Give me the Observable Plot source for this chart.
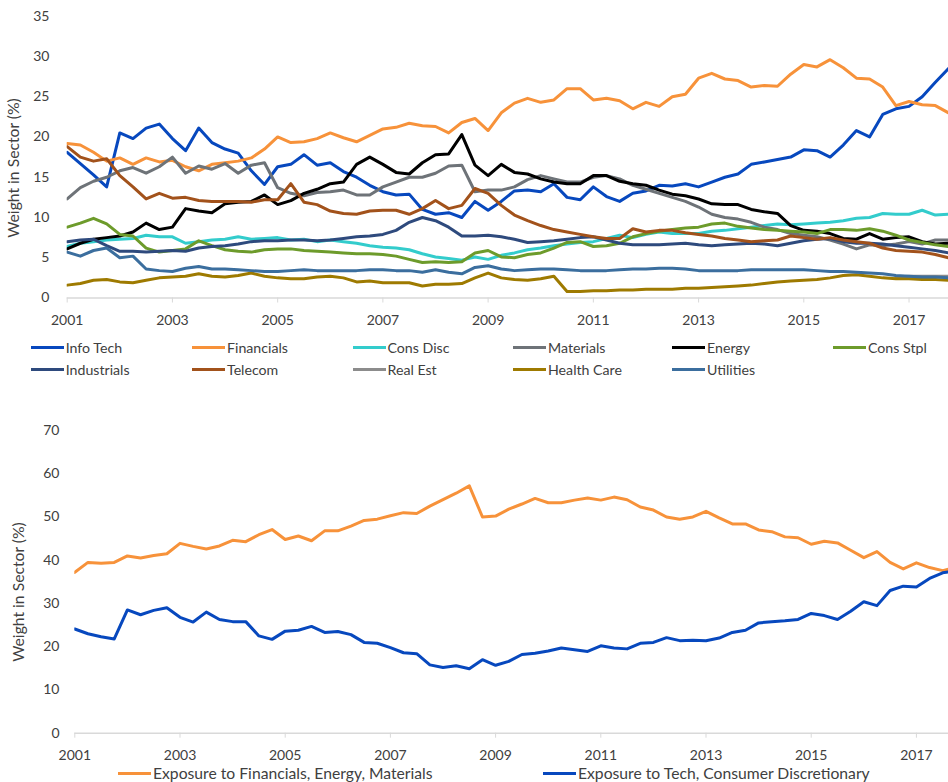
<!DOCTYPE html>
<html><head><meta charset="utf-8">
<script src="https://cdn.jsdelivr.net/npm/d3@7"></script>
<script src="https://cdn.jsdelivr.net/npm/@observablehq/plot@0.6"></script>
<style>
body{margin:0;background:#fff;font-family:Lato,"Liberation Sans",sans-serif;}
#wrap{position:relative;width:948px;height:782px;overflow:hidden;background:#fff;}
#wrap svg{position:absolute;left:0;overflow:visible;}
.leg{position:absolute;display:flex;align-items:center;height:18px;color:#404040;white-space:nowrap;}
.sw{display:inline-block;width:33px;height:3px;margin-right:2px;}
</style></head><body><div id="wrap"></div>
<script>
// quarterly observations, 2001 Q1 .. 2017 Q4 (index i -> 2001 + i/4)
const startYear = 2001;
const tickYears = [2001,2003,2005,2007,2009,2011,2013,2015,2017];
const topTicks = [0,5,10,15,20,25,30,35];
const bottomTicks = [0,10,20,30,40,50,60,70];

const sectorNames = ["Info Tech","Financials","Cons Disc","Materials","Energy","Cons Stpl","Industrials","Telecom","Real Est","Health Care","Utilities"];
const sectorColors = ["#0748BE","#F7923A","#33CCCC","#6E7378","#000000","#6D9B2B","#2E4A7D","#A2521B","#8C8C8C","#9E7A00","#3B6E9E"];

const infoTech = [18.1,16.7,15.3,13.8, 20.5,19.8,21.1,21.6, 19.8,18.3,21.1,19.3, 18.5,18.0,15.8,14.1, 16.3,16.6,17.8,16.5, 16.8,15.7,15.0,14.0, 13.2,12.8,12.9,11.0, 10.4,10.6,10.0,12.0, 10.9,12.0,13.3,13.4, 13.2,14.2,12.5,12.2, 13.8,12.6,12.0,13.0, 13.3,14.0,13.9,14.2, 13.8,14.4,15.0,15.4, 16.6,16.9,17.2,17.5, 18.4,18.3,17.5,19.0, 20.8,20.0,22.8,23.5, 23.8,25.0,26.8,28.5];
const financials = [19.2,19.0,18.1,17.0, 17.4,16.6,17.4,16.9, 17.1,16.3,15.8,16.6, 16.8,17.0,17.4,18.5, 20.0,19.3,19.4,19.8, 20.5,19.9,19.4,20.2, 21.0,21.2,21.7,21.4, 21.3,20.5,21.8,22.3, 20.8,23.0,24.2,24.8, 24.3,24.6,26.0,26.0, 24.6,24.8,24.5,23.5, 24.3,23.8,25.0,25.3, 27.3,27.9,27.2,27.0, 26.2,26.4,26.3,27.8, 29.0,28.7,29.6,28.6, 27.3,27.2,26.2,23.9, 24.4,24.0,23.9,23.0];
const consDisc = [6.4,6.8,7.0,7.2, 7.3,7.4,7.8,7.6, 7.6,6.8,7.0,7.2, 7.3,7.6,7.3,7.4, 7.5,7.2,7.3,7.0, 7.2,7.0,6.8,6.5, 6.3,6.2,6.0,5.5, 5.1,4.9,4.7,5.1, 4.8,5.3,5.6,6.0, 6.2,6.5,6.7,6.9, 7.0,7.4,7.8,7.5, 7.9,8.2,8.0,8.0, 8.0,8.3,8.4,8.6, 8.8,9.0,9.2,9.1, 9.2,9.3,9.4,9.6, 9.9,10.0,10.5,10.4, 10.4,10.9,10.3,10.4];
const materials = [12.3,13.7,14.5,15.0, 15.8,16.2,15.5,16.3, 17.5,15.5,16.4,16.0, 16.7,15.5,16.5,16.8, 13.7,13.0,12.7,13.1, 13.2,13.4,12.8,12.8, 13.8,14.4,15.0,15.0, 15.5,16.4,16.5,13.2, 13.4,13.4,13.8,14.7, 15.2,14.8,14.4,14.4, 15.0,15.2,14.8,14.0, 13.5,13.0,12.5,12.0, 11.3,10.4,10.0,9.8, 9.4,8.8,8.5,8.0, 7.8,7.6,7.2,6.7, 6.1,6.6,6.5,6.7, 7.0,6.7,7.2,7.2];
const energy = [6.1,6.8,7.3,7.5, 7.7,8.2,9.3,8.5, 8.8,11.1,10.8,10.6, 11.7,11.9,12.0,12.8, 11.6,12.1,13.0,13.5, 14.2,14.4,16.6,17.5, 16.6,15.6,15.4,16.8, 17.8,17.9,20.3,16.5, 15.2,16.6,15.6,15.4, 14.8,14.4,14.2,14.2, 15.2,15.2,14.5,14.2, 14.0,13.4,12.9,12.7, 12.3,11.7,11.6,11.6, 11.0,10.7,10.5,9.0, 8.4,8.3,8.0,7.4, 7.3,8.0,7.3,7.5, 7.6,7.0,6.7,6.8];
const consStpl = [8.8,9.3,9.9,9.2, 7.9,7.7,6.2,5.7, 5.9,6.1,7.1,6.5, 6.0,5.8,5.7,6.0, 6.1,6.1,5.9,5.8, 5.7,5.6,5.5,5.5, 5.4,5.2,4.8,4.4, 4.5,4.4,4.5,5.6, 5.9,5.1,5.0,5.4, 5.6,6.2,6.9,7.0, 6.4,6.5,6.8,7.6, 8.0,8.3,8.5,8.7, 8.8,9.2,9.3,8.9, 8.7,8.5,8.4,8.3, 8.2,8.0,8.5,8.5, 8.4,8.6,8.3,7.8, 7.2,6.9,6.6,6.4];
const industrials = [7.0,7.2,7.3,6.5, 5.8,5.8,5.7,5.8, 5.9,5.8,6.2,6.4, 6.5,6.7,7.0,7.1, 7.1,7.2,7.2,7.1, 7.2,7.4,7.6,7.7, 7.9,8.4,9.4,10.0, 9.6,8.8,7.7,7.7, 7.8,7.6,7.3,6.9, 7.0,7.1,7.3,7.5, 7.6,7.2,6.8,6.6, 6.6,6.6,6.7,6.8, 6.6,6.5,6.6,6.7, 6.8,6.7,6.5,6.8, 7.1,7.3,7.4,7.0, 6.8,6.8,6.7,6.5, 6.3,6.1,5.9,5.6];
const telecom = [18.8,17.5,17.0,17.3, 15.2,13.8,12.3,13.0, 12.4,12.5,12.1,12.0, 12.0,12.0,11.9,12.2, 12.2,14.2,11.9,11.6, 10.8,10.5,10.4,10.8, 10.9,10.9,10.4,11.1, 12.1,11.1,11.5,13.6, 13.0,11.5,10.3,9.6, 9.0,8.5,8.2,7.9, 7.6,7.4,7.4,8.6, 8.2,8.4,8.4,8.1, 7.9,7.7,7.4,7.2, 7.0,7.1,7.2,7.7, 7.5,7.3,7.5,7.2, 7.0,6.8,6.2,5.9, 5.8,5.7,5.4,5.0];
const realEst = [null,null,null,null, null,null,null,null, null,null,null,null, null,null,null,null, null,null,null,null, null,null,null,null, null,null,null,null, null,null,null,null, null,null,null,null, null,null,null,null, null,null,null,null, null,null,null,null, null,null,null,null, null,null,null,null, null,null,null,null, null,null,null,2.6, 2.7,2.7,2.7,2.7];
const healthCare = [1.6,1.8,2.2,2.3, 2.0,1.9,2.2,2.5, 2.6,2.7,3.0,2.7, 2.6,2.8,3.1,2.7, 2.5,2.4,2.4,2.6, 2.7,2.5,2.0,2.1, 1.9,1.9,1.9,1.5, 1.7,1.7,1.8,2.5, 3.1,2.5,2.3,2.2, 2.4,2.7,0.8,0.8, 0.9,0.9,1.0,1.0, 1.1,1.1,1.1,1.2, 1.2,1.3,1.4,1.5, 1.6,1.8,2.0,2.1, 2.2,2.3,2.5,2.8, 2.9,2.7,2.5,2.4, 2.4,2.3,2.3,2.2];
const utilities = [5.7,5.2,5.9,6.2, 5.0,5.2,3.6,3.4, 3.3,3.7,3.9,3.6, 3.6,3.5,3.4,3.3, 3.3,3.4,3.5,3.4, 3.4,3.4,3.4,3.5, 3.5,3.4,3.4,3.2, 3.5,3.2,3.0,3.8, 4.0,3.6,3.4,3.5, 3.6,3.6,3.5,3.4, 3.4,3.4,3.5,3.6, 3.6,3.7,3.7,3.6, 3.4,3.4,3.4,3.4, 3.5,3.5,3.5,3.5, 3.5,3.4,3.3,3.3, 3.2,3.1,3.0,2.8, 2.7,2.6,2.6,2.5];

const exposureNames = ["Exposure to Financials, Energy, Materials","Exposure to Tech, Consumer Discretionary"];
const exposureColors = ["#F7923A","#0748BE"];
const finEnergyMat = [37.2,39.5,39.3,39.5, 41.0,40.5,41.1,41.5, 43.9,43.2,42.6,43.3, 44.6,44.3,45.9,47.1, 44.8,45.6,44.5,46.8, 46.8,47.9,49.2,49.5, 50.3,51.0,50.8,52.5, 54.0,55.5,57.2,50.0, 50.2,51.8,53.0,54.3, 53.3,53.3,53.9,54.4, 53.9,54.6,54.0,52.3, 51.6,50.0,49.5,50.0, 51.3,49.8,48.4,48.4, 47.0,46.6,45.4,45.2, 43.7,44.4,44.0,42.3, 40.6,42.0,39.5,38.0, 39.4,38.3,37.6,38.3];
const techConsDisc = [24.1,23.0,22.3,21.8, 28.5,27.4,28.4,29.0, 26.8,25.7,28.0,26.3, 25.8,25.8,22.5,21.7, 23.6,23.8,24.7,23.3, 23.5,22.8,21.0,20.8, 19.8,18.6,18.4,15.8, 15.2,15.6,14.9,17.0, 15.7,16.6,18.2,18.5, 19.0,19.7,19.3,18.9, 20.2,19.7,19.5,20.8, 21.0,22.1,21.4,21.5, 21.4,22.0,23.3,23.8, 25.5,25.8,26.0,26.3, 27.7,27.2,26.3,28.2, 30.4,29.5,33.0,34.0, 33.8,35.8,37.1,37.5];

const sectorValues = [infoTech,financials,consDisc,materials,energy,consStpl,industrials,telecom,realEst,healthCare,utilities];
const exposureValues = [finEnergyMat, techConsDisc];
const dateOf = i => startYear + i / 4;

const wrap = document.getElementById("wrap");
const font = "Lato, 'Liberation Sans', sans-serif";
const textCol = "#404040";

// font size that makes a string as wide as in the reference
const ctx = document.createElement("canvas").getContext("2d");
function fitSize(text, width) {
  ctx.font = "100px " + font;
  return 100 * width / ctx.measureText(text).width;
}
const titleSize = fitSize("Weight in Sector (%)", 140);
const topLegSize = fitSize("Financials", 61);
const botLegSize = fitSize(exposureNames[0], 280);

function panel({width, height, top, marginLeft, marginTop, marginBottom, xMax, yMax, yTicks, yPad, series, colors, title}) {
  const svg = Plot.plot({
    width, height, marginLeft, marginRight: 0, marginTop, marginBottom,
    style: {fontFamily: font, fontSize: "14px", background: "transparent", overflow: "visible"},
    x: {domain: [startYear, xMax]},
    y: {domain: [0, yMax]},
    marks: [
      Plot.ruleY([0], {stroke: "#D9D9D9", strokeWidth: 1.5}),
      Plot.axisX({ticks: tickYears, tickFormat: d => String(d), tickSize: 5, tickPadding: 12, stroke: "#D9D9D9", fill: textCol, label: null}),
      Plot.axisY({ticks: yTicks, tickSize: 0, tickPadding: yPad, fill: textCol, label: null}),
      ...series.map((vals, k) => Plot.lineY(vals, {
        x: (d, i) => dateOf(i), y: d => d,
        stroke: colors[k], strokeWidth: 3, strokeLinejoin: "round", clip: true
      }))
    ]
  });
  svg.style.top = top + "px";
  d3.select(svg).append("text")
    .attr("transform", `translate(${title.x},${title.y}) rotate(-90)`)
    .attr("text-anchor", "middle").attr("dominant-baseline", "middle")
    .attr("fill", textCol).style("font-family", font).style("font-size", titleSize + "px")
    .text("Weight in Sector (%)");
  wrap.appendChild(svg);
}

panel({width: 948, height: 330, top: 0, marginLeft: 66.7, marginTop: 15.7, marginBottom: 32.5,
  xMax: 2017.75, yMax: 35, yTicks: topTicks, yPad: 17.7, series: sectorValues, colors: sectorColors,
  title: {x: 15, y: 168}});

panel({width: 948, height: 365, top: 400, marginLeft: 74.3, marginTop: 30, marginBottom: 32.3,
  xMax: 2017.61, yMax: 70, yTicks: bottomTicks, yPad: 15.3, series: exposureValues, colors: exposureColors,
  title: {x: 20, y: 192}});

function legendItem(x, yc, name, color, size) {
  const el = document.createElement("div");
  el.className = "leg";
  el.style.left = x + "px";
  el.style.top = (yc - 9) + "px";
  el.style.fontSize = size + "px";
  const sw = document.createElement("span");
  sw.className = "sw"; sw.style.background = color;
  el.appendChild(sw);
  el.appendChild(document.createTextNode(name));
  wrap.appendChild(el);
}
const legCols = [30.7, 192, 352.5, 513, 672, 833];
sectorNames.forEach((n, i) => legendItem(legCols[i % 6], i < 6 ? 347.7 : 369.3, n, sectorColors[i], topLegSize));
legendItem(118, 773, exposureNames[0], exposureColors[0], botLegSize);
legendItem(543, 773, exposureNames[1], exposureColors[1], botLegSize);
</script></body></html>
